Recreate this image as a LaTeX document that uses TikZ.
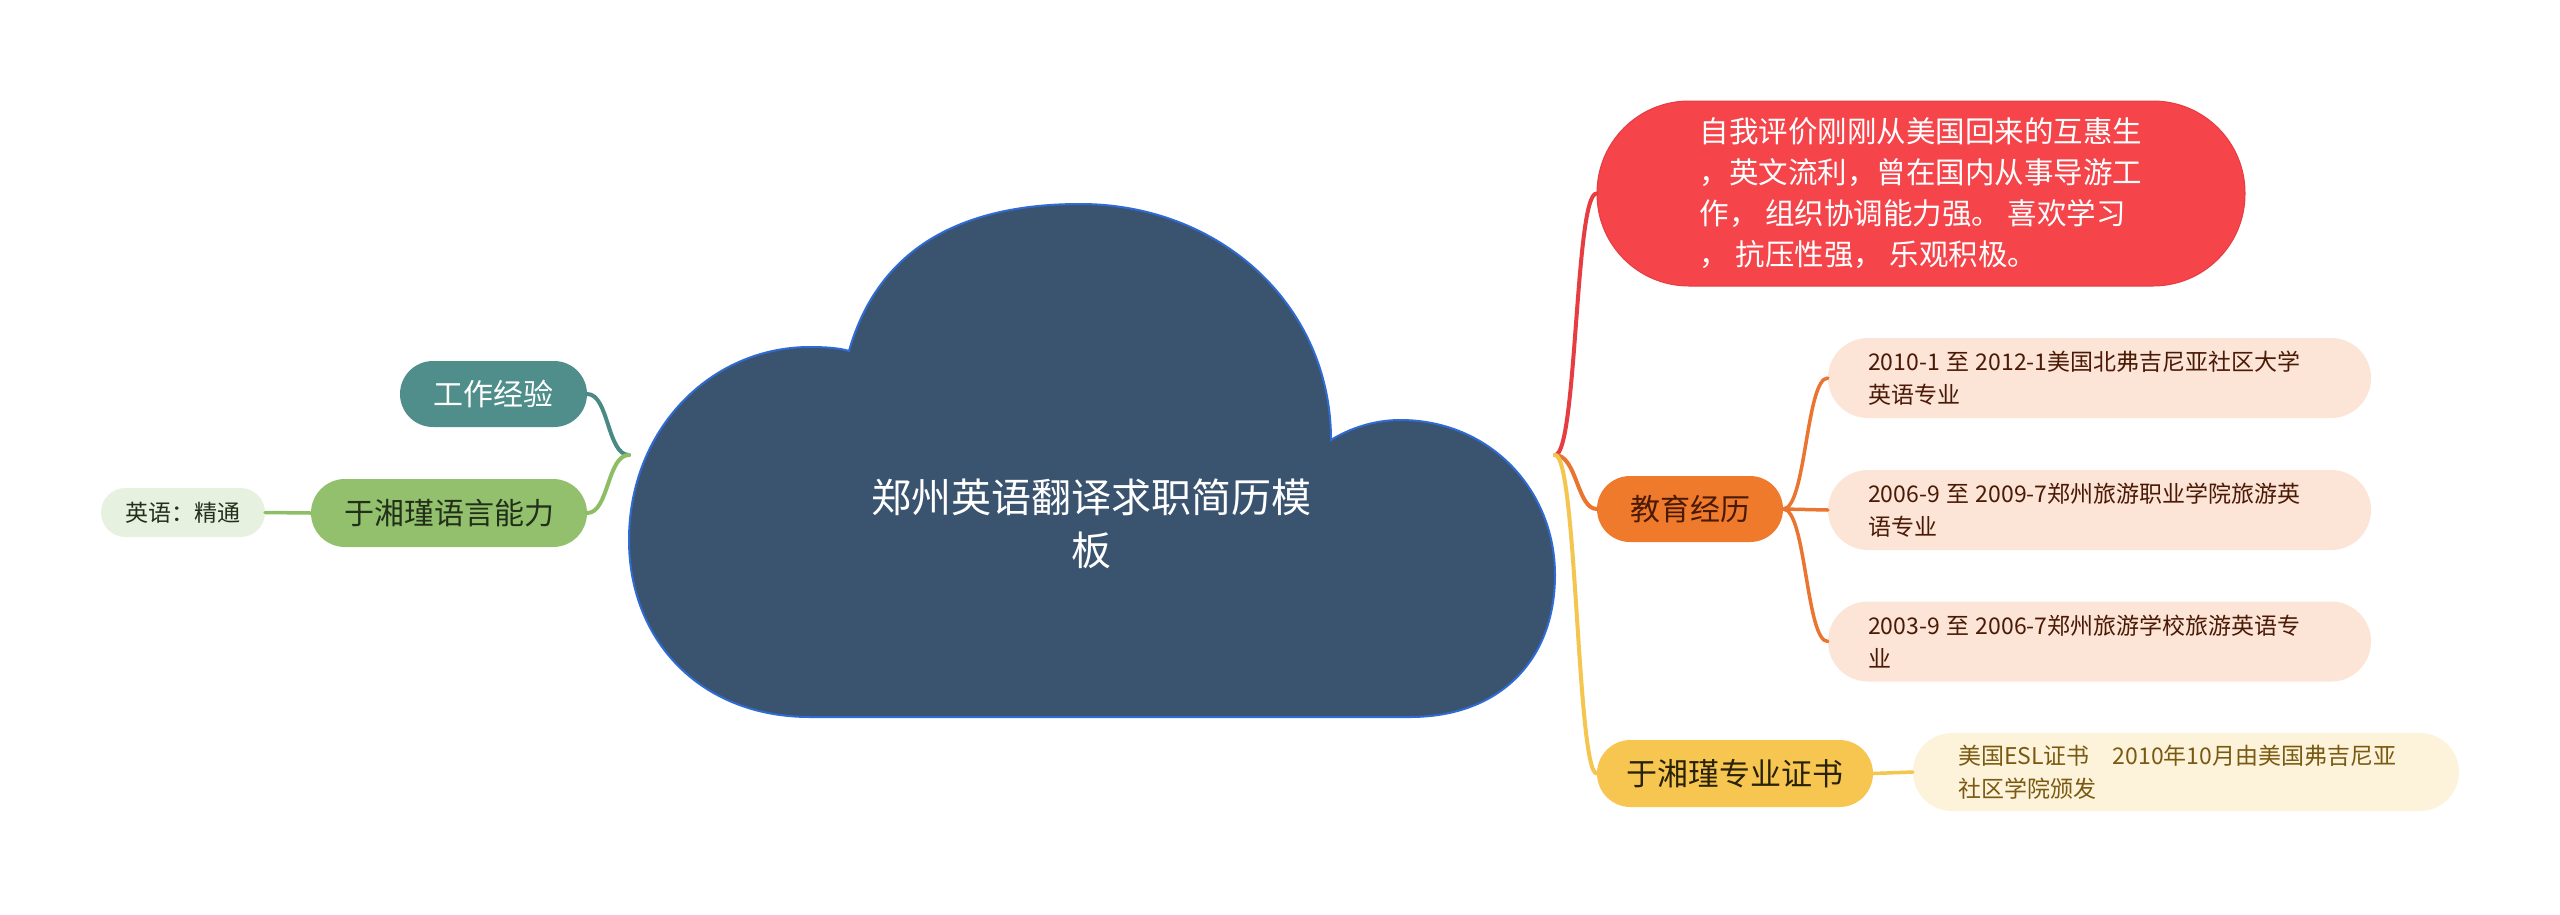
\documentclass[tikz,border=0pt]{standalone}
\usepackage{fontspec}
\setmainfont{Noto Sans CJK SC}
\definecolor{cloudfill}{HTML}{3A5470}
\definecolor{cloudline}{HTML}{2F6BD2}
\definecolor{redfill}{HTML}{F5444A}
\definecolor{redline}{HTML}{E53D42}
\definecolor{orangefill}{HTML}{F07A2C}
\definecolor{orangeline}{HTML}{EA7530}
\definecolor{peach}{HTML}{FCE4D6}
\definecolor{brown}{HTML}{4A1A06}
\definecolor{yellowfill}{HTML}{F7C651}
\definecolor{yellowline}{HTML}{F5C64F}
\definecolor{cream}{HTML}{FDF3DA}
\definecolor{olive}{HTML}{7A5A12}
\definecolor{tealfill}{HTML}{4F8E8A}
\definecolor{tealline}{HTML}{4A8A86}
\definecolor{greenfill}{HTML}{93C06C}
\definecolor{greenline}{HTML}{8DBE66}
\definecolor{palegreen}{HTML}{E7F1DF}
\definecolor{darkgreen}{HTML}{22301A}
\definecolor{darktext}{HTML}{2A2208}
\newcommand{\gap}{\hspace{6.5pt}}
\begin{document}
\begin{tikzpicture}[x=1pt,y=-1pt,
  pill/.style={rectangle, inner sep=0pt, align=center},
  big/.style={font=\fontsize{30}{36}\selectfont},
  small/.style={font=\fontsize{23}{33}\selectfont, align=left, inner xsep=40pt, inner ysep=0pt},
  conn/.style={line width=4pt, line cap=round},
  subconn/.style={line width=3.5pt, line cap=round},
]
\useasboundingbox (0,0) rectangle (2560,914);
\fill[white] (0,0) rectangle (2560,914);

% cloud
\filldraw[fill=cloudfill, draw=cloudline, line width=2pt]
 (810,717) .. controls (700,717) and (629,640) .. (629,540)
 .. controls (629,430) and (710,347) .. (810,347)
 .. controls (825,347) and (840,348) .. (849,351)
 .. controls (880,242) and (970,204) .. (1080,204)
 .. controls (1220,204) and (1331,305) .. (1331,440)
 .. controls (1350,428) and (1375,420) .. (1400,420)
 .. controls (1490,420) and (1555,490) .. (1555,575)
 .. controls (1555,660) and (1500,717) .. (1410,717)
 -- cycle;
\node[pill, text=white, font=\fontsize{40}{53}\selectfont] (title) at (1091,523.5) {郑州英语翻译求职简历模\\板};
\coordinate (jl) at (629,455);
\coordinate (jr) at (1555,455);

% right side
\node[pill, fill=redfill, draw=redline, line width=1pt, rounded corners=92pt,
  minimum width=648pt, minimum height=185pt, text=white, align=left,
  font=\fontsize{29.5}{41}\selectfont] (self) at (1921,193.5)
  {自我评价刚刚从美国回来的互惠生\\，英文流利，曾在国内从事导游工\\作，\ 组织协调能力强。\ 喜欢学习\\，\ 抗压性强，\ 乐观积极。};

\node[pill, big, fill=orangefill, rounded corners=33pt, minimum width=186pt,
  minimum height=66pt, text=brown] (edu) at (1690,509) {教育经历};

\node[small, fill=peach, rounded corners=40pt, text width=463pt,
  minimum height=80pt, text=brown] (e1) at (2099.5,378)
  {2010-1\gap 至\gap 2012-1美国北弗吉尼亚社区大学\\英语专业};
\node[small, fill=peach, rounded corners=40pt, text width=463pt,
  minimum height=80pt, text=brown] (e2) at (2099.5,510)
  {2006-9\gap 至\gap 2009-7郑州旅游职业学院旅游英\\语专业};
\node[small, fill=peach, rounded corners=40pt, text width=463pt,
  minimum height=80pt, text=brown] (e3) at (2099.5,641.5)
  {2003-9\gap 至\gap 2006-7郑州旅游学校旅游英语专\\业};

\node[pill, font=\fontsize{31}{36}\selectfont, fill=yellowfill, rounded corners=33.5pt,
  minimum width=276pt, minimum height=67pt, text=darktext] (cert) at (1735,773.5) {于湘瑾专业证书};
\node[small, inner xsep=45pt, fill=cream, rounded corners=39pt, text width=456pt,
  minimum height=78pt, text=olive] (c1) at (2186,772)
  {美国ESL证书　2010年10月由美国弗吉尼亚\\社区学院颁发};

% left side
\node[pill, big, fill=tealfill, rounded corners=33pt, minimum width=187pt,
  minimum height=66pt, text=white] (work) at (493.5,394) {工作经验};
\node[pill, big, fill=greenfill, rounded corners=34pt, minimum width=276pt,
  minimum height=68pt, text=darkgreen] (lang) at (449,513) {于湘瑾语言能力};
\node[pill, font=\fontsize{23}{28}\selectfont, fill=palegreen, rounded corners=24.5pt,
  minimum width=164pt, minimum height=49pt, text=darkgreen] (eng) at (183,512.5) {英语：精通};

% connectors right
\draw[conn, redline] (jr) .. controls (1577,455) and (1575,193.5) .. (self.west);
\draw[conn, orangeline] (jr) .. controls (1577,455) and (1577,509) .. (edu.west);
\draw[conn, yellowline] (jr) .. controls (1577,455) and (1577,773.5) .. (cert.west);
\draw[subconn, orangeline] (edu.east) .. controls (1806,509) and (1806,378) .. (e1.west);
\draw[subconn, orangeline] (edu.east) -- (e2.west);
\draw[subconn, orangeline] (edu.east) .. controls (1806,509) and (1806,641.5) .. (e3.west);
\draw[subconn, yellowline] (cert.east) -- (c1.west);

% connectors left
\draw[conn, tealline] (work.east) .. controls (609,394) and (607,455) .. (jl);
\draw[conn, greenline] (lang.east) .. controls (609,513) and (607,455) .. (jl);
\draw[subconn, greenline] (eng.east) -- (lang.west);
\end{tikzpicture}
\end{document}
